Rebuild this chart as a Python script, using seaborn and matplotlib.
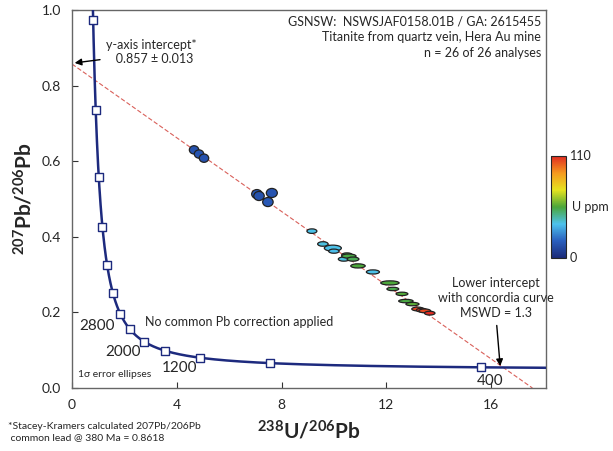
import numpy as np
import pandas as pd
import matplotlib
matplotlib.use("Agg")
import matplotlib.pyplot as plt
import seaborn as sns
from matplotlib.patches import Ellipse
from matplotlib.colors import LinearSegmentedColormap, Normalize
from matplotlib.colorbar import ColorbarBase

# --- Analyses: 238U/206Pb, 207Pb/206Pb, ellipse full widths, U (ppm) ---
u_pb = [4.66, 4.85, 5.04, 7.06, 7.14, 7.63, 7.48,
        9.16, 9.58, 9.96, 10.00, 10.38, 10.50, 10.57, 10.73, 10.92, 11.49,
        12.14, 12.25, 12.60, 12.75, 13.00, 13.20, 13.35, 13.47, 13.66]
pb_pb = [0.630, 0.619, 0.608, 0.513, 0.508, 0.516, 0.492,
         0.415, 0.381, 0.370, 0.362, 0.341, 0.352, 0.349, 0.341, 0.323, 0.307,
         0.278, 0.262, 0.249, 0.230, 0.222, 0.209, 0.206, 0.204, 0.198]
err_x = [0.36, 0.36, 0.36, 0.40, 0.40, 0.42, 0.40,
         0.38, 0.40, 0.65, 0.40, 0.42, 0.40, 0.55, 0.45, 0.55, 0.50,
         0.70, 0.45, 0.45, 0.55, 0.50, 0.45, 0.40, 0.45, 0.40]
err_y = [0.022, 0.022, 0.022, 0.024, 0.024, 0.024, 0.024,
         0.012, 0.012, 0.016, 0.011, 0.011, 0.011, 0.011, 0.011, 0.011, 0.011,
         0.011, 0.009, 0.009, 0.009, 0.009, 0.010, 0.010, 0.010, 0.010]
u_ppm = [14, 15, 14, 16, 14, 15, 16,
         37, 38, 37, 36, 38, 53, 54, 52, 55, 37,
         55, 53, 56, 54, 57, 106, 108, 105, 110]

# Concordia markers every 400 Ma, labelled ages
marker_ages = [400, 800, 1200, 1600, 2000, 2400, 2800, 3200,
               3600, 4000, 4400, 4800, 5200]
label_ages = [400, 1200, 2000, 2800]

# Discordia regression
y_intercept = 0.857
lower_age = 380.0

x_ticks = [0, 4, 8, 12, 16]
y_ticks = [0.0, 0.2, 0.4, 0.6, 0.8, 1.0]

L238 = 1.55125e-10
L235 = 9.8485e-10
U_RATIO = 137.88


def tera_wasserburg(age_ma):
    t = np.asarray(age_ma, dtype=float) * 1e6
    e238 = np.expm1(L238 * t)
    e235 = np.expm1(L235 * t)
    return 1.0 / e238, e235 / e238 / U_RATIO


sns.set_theme(style="white")
plt.rcParams["font.family"] = ["Lato", "DejaVu Sans"]
plt.rcParams["mathtext.fontset"] = "custom"
plt.rcParams["mathtext.bf"] = "Lato:bold"
plt.rcParams["mathtext.rm"] = "Lato"

fig = plt.figure(figsize=(6.13, 4.51), dpi=100)
ax = fig.add_axes([0.1175, 0.1397, 0.7732, 0.8381])

# Concordia curve
ages = np.linspace(330, 5600, 800)
cx, cy = tera_wasserburg(ages)
curve = pd.DataFrame({"x": cx, "y": cy})
sns.lineplot(data=curve, x="x", y="y", ax=ax, color="#1d2a7e", lw=1.8,
             sort=False, estimator=None, zorder=3)

mx, my = tera_wasserburg(marker_ages)
markers = pd.DataFrame({"x": mx, "y": my})
sns.scatterplot(data=markers, x="x", y="y", ax=ax, marker="s", s=28,
                facecolor="white", edgecolor="#1d2a7e", linewidth=1.0,
                zorder=4)

# Discordia line from the y intercept through the lower intercept
lx, ly = tera_wasserburg(lower_age)
slope = (ly - y_intercept) / lx
dx = np.array([0.0, -y_intercept / slope])
disc = pd.DataFrame({"x": dx, "y": y_intercept + slope * dx})
sns.lineplot(data=disc, x="x", y="y", ax=ax, color="#d9605a", lw=0.8,
             linestyle=(0, (4, 2)), zorder=2)

# Error ellipses coloured by U content
cmap = LinearSegmentedColormap.from_list(
    "uppm", ["#1b2a78", "#2a5fbe", "#4dc2ec", "#4aa63a", "#e6e31f",
             "#f59a1f", "#e02b22"])
norm = Normalize(0, 110)
for x, y, w, h, u in zip(u_pb, pb_pb, err_x, err_y, u_ppm):
    ax.add_patch(Ellipse((x, y), w, h, facecolor=cmap(norm(u)),
                         edgecolor="#222222", lw=0.9, zorder=5))

ax.set_xlim(0, 18.1)
ax.set_ylim(0, 1.0)
ax.set_xticks(x_ticks)
ax.set_yticks(y_ticks)
ax.set_xticklabels([str(v) for v in x_ticks])
ax.set_yticklabels([f"{v:.1f}" for v in y_ticks])
ax.tick_params(direction="in", length=4, width=0.8, color="#333333",
               labelsize=10, pad=8, bottom=True, left=True)
for sp in ax.spines.values():
    sp.set_color("#666666")
    sp.set_linewidth(1.0)

ax.set_xlabel(r"$\mathbf{^{238}U/^{206}Pb}$", fontsize=15, labelpad=6)
ax.set_ylabel(r"$\mathbf{^{207}Pb/^{206}Pb}$", fontsize=15, labelpad=4)

# Age labels on the concordia
lbl_pos = {400: (15.95, 0.019), 1200: (4.12, 0.053), 2000: (1.95, 0.095),
           2800: (0.95, 0.164)}
for a in label_ages:
    px, py = lbl_pos[a]
    ax.text(px, py, str(a), fontsize=11, ha="center", va="center")

ax.text(0.23, 0.035, "1σ error ellipses", fontsize=7.5, ha="left",
        va="center")
ax.text(2.8, 0.175, "No common Pb correction applied", fontsize=9,
        ha="left", va="center")

ax.text(0.99, 0.985,
        "GSNSW:  NSWSJAF0158.01B / GA: 2615455\n"
        "Titanite from quartz vein, Hera Au mine\n"
        "n = 26 of 26 analyses",
        transform=ax.transAxes, fontsize=9, ha="right", va="top",
        linespacing=1.35)

ax.annotate("y-axis intercept*\n   0.857 ± 0.013", xy=(0.1, 0.86),
            xytext=(1.3, 0.89), fontsize=9, ha="left", va="center",
            arrowprops=dict(arrowstyle="-|>", color="black", lw=1.0,
                            shrinkB=0, mutation_scale=10,
                            relpos=(0.0, 0.22)))

ax.annotate("Lower intercept\nwith concordia curve\nMSWD = 1.3",
            xy=(16.35, 0.058), xytext=(16.2, 0.237), fontsize=9,
            ha="center", va="center", linespacing=1.3,
            arrowprops=dict(arrowstyle="-|>", color="black", lw=1.0,
                            shrinkB=0, mutation_scale=10,
                            relpos=(0.5, 0.0)))

fig.text(0.013, 0.042,
         "*Stacey-Kramers calculated 207Pb/206Pb\n common lead @ 380 Ma = 0.8618",
         fontsize=7.5, ha="left", va="center", linespacing=1.3)

# Colour bar for U content
cax = fig.add_axes([0.899, 0.428, 0.025, 0.226])
cb = ColorbarBase(cax, cmap=cmap, norm=norm, orientation="vertical")
cb.set_ticks([])
cb.outline.set_linewidth(0.8)
fig.text(0.93, 0.654, "110", fontsize=9, ha="left", va="center")
fig.text(0.93, 0.428, "0", fontsize=9, ha="left", va="center")
fig.text(0.933, 0.541, "U ppm", fontsize=9, ha="left", va="center")

fig.savefig("out.png", dpi=100)
